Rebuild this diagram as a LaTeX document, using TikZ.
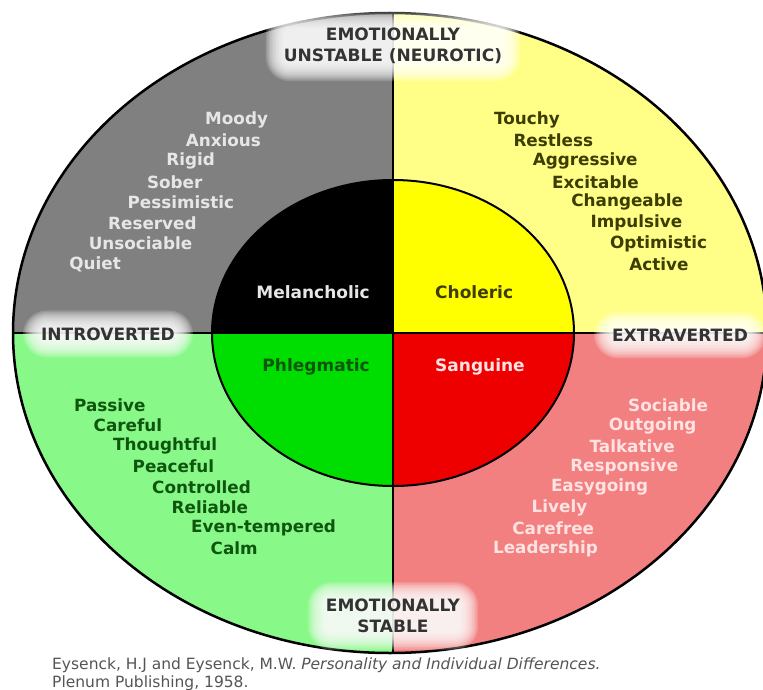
\documentclass[tikz,border=0pt]{standalone}
\usepackage{fontspec}
\setmainfont{DejaVu Sans}
\usepackage{xcolor}
\usetikzlibrary{positioning}

\definecolor{melback}{HTML}{808080}
\definecolor{chlback}{HTML}{FFFF88}
\definecolor{phlback}{HTML}{88F888}
\definecolor{sanback}{HTML}{F28080}
\definecolor{chlcore}{HTML}{FFFF00}
\definecolor{phlcore}{HTML}{00DD00}
\definecolor{sancore}{HTML}{EE0000}
\definecolor{meltext}{HTML}{E6E6E6}
\definecolor{chltext}{HTML}{3D3D00}
\definecolor{phltext}{HTML}{0E560E}
\definecolor{santext}{HTML}{FFE2E2}
\definecolor{axistext}{HTML}{333333}
\definecolor{citetext}{HTML}{555555}

\pgfdeclarelayer{back}
\pgfdeclarelayer{glow}
\pgfsetlayers{back,glow,main}

% soft white halo behind an axis label
\newcommand{\halo}[1]{%
  \foreach \g in {16,14.5,...,-2}
    \fill[white, opacity=0.16, rounded corners={\g pt+8pt}]
      ([xshift=-\g pt-2pt, yshift=-\g pt-1pt]#1.south west) rectangle
      ([xshift=\g pt+2pt, yshift=\g pt+1pt]#1.north east);}

\begin{document}
\begin{tikzpicture}[
  x=1pt, y=-1pt,
  trait/.style  = {anchor=west, inner sep=0pt,
                   font=\fontsize{16.8}{19}\selectfont\bfseries},
  temper/.style = {inner sep=0pt, font=\fontsize{17}{19}\selectfont\bfseries},
  axis/.style   = {inner sep=0pt, align=center, text=axistext,
                   font=\fontsize{17}{21}\selectfont\bfseries},
  cite/.style   = {anchor=west, inner sep=0pt, text=citetext,
                   font=\fontsize{15.5}{17}\selectfont}
]
\useasboundingbox (0,0) rectangle (763,690);
\clip (0,0) rectangle (763,690);

\coordinate (c) at (393,333);

%% ---- quadrant fills and outlines ----
\begin{pgfonlayer}{back}
  \fill[white] (0,0) rectangle (763,690);
  \begin{scope}
    \clip (390,333) ellipse [x radius=377, y radius=320];
    \fill[melback] (0,0) rectangle (c);
    \fill[chlback] (763,0) rectangle (c);
    \fill[phlback] (0,690) rectangle (c);
    \fill[sanback] (763,690) rectangle (c);
    \draw[line width=2pt] (0,333) -- (763,333);
  \end{scope}
  \draw[line width=2pt] (393,13) -- (393,653);
  \begin{scope}
    \clip (c) ellipse [x radius=181, y radius=153];
    \fill[black]   (0,0) rectangle (c);
    \fill[chlcore] (763,0) rectangle (c);
    \fill[phlcore] (0,690) rectangle (c);
    \fill[sancore] (763,690) rectangle (c);
  \end{scope}
  \draw[line width=2pt] (c) ellipse [x radius=181, y radius=153];
  \draw[line width=2.5pt] (390,333) ellipse [x radius=377, y radius=320];
  \draw[line width=2pt] (212,333) -- (574,333);
  \draw[line width=2pt] (393,180) -- (393,486);
\end{pgfonlayer}

%% ---- temperaments ----
\node[temper, text=meltext, anchor=east] (melan)  at (370,292) {Melancholic};
\node[temper, text=chltext, anchor=west] (chol)   at (435,292) {Choleric};
\node[temper, text=phltext, anchor=east] (phleg)  at (370,367) {Phlegmatic};
\node[temper, text=santext, anchor=west] (sang)   at (435,367) {Sanguine};

%% ---- traits, stepped one line at a time ----
\foreach \w [count=\i from 0] in {Moody,Anxious,Rigid,Sober,Pessimistic,Reserved,Unsociable,Quiet}
  \node[trait, text=meltext] (mel\i) at ({205-19.4*\i},{120+20.6*\i}) {\w};
\foreach \w [count=\i from 0] in {Touchy,Restless,Aggressive,Excitable,Changeable,Impulsive,Optimistic,Active}
  \node[trait, text=chltext] (chl\i) at ({494+19.3*\i},{120+20.6*\i}) {\w};
\foreach \w [count=\i from 0] in {Passive,Careful,Thoughtful,Peaceful,Controlled,Reliable,Even-tempered,Calm}
  \node[trait, text=phltext] (phl\i) at ({74+19.5*\i},{405+20.5*\i}) {\w};
\foreach \w [count=\i from 0] in {Sociable,Outgoing,Talkative,Responsive,Easygoing,Lively,Carefree,Leadership}
  \node[trait, text=santext] (san\i) at ({628-19.3*\i},{405+20.5*\i}) {\w};

%% ---- axis labels ----
\node[axis] (neuro)  at (393,46)  {EMOTIONALLY\\UNSTABLE (NEUROTIC)};
\node[axis] (stable) at (393,616) {EMOTIONALLY\\STABLE};
\node[axis] (intro)  at (108,334) {INTROVERTED};
\node[axis] (extra)  at (680,335) {EXTRAVERTED};

\begin{pgfonlayer}{glow}
  \halo{neuro}
  \halo{stable}
  \halo{intro}
  \halo{extra}
\end{pgfonlayer}

%% ---- source ----
\node[cite] (cite1) at (52,665)
  {Eysenck, H.J and Eysenck, M.W. \textit{Personality and Individual Differences.}};
\node[cite] (cite2) at (52,683) {Plenum Publishing, 1958.};

\end{tikzpicture}
\end{document}
